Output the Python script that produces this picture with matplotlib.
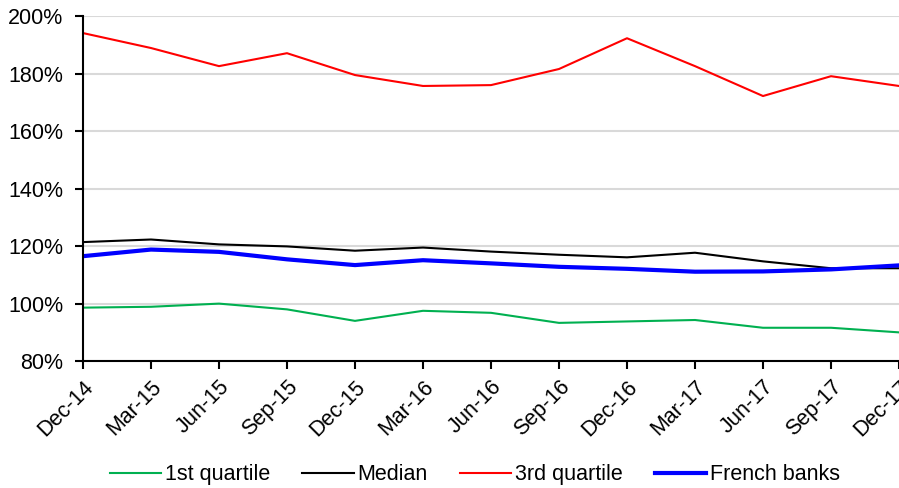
"""Liquidity ratio quartiles vs French banks."""

import matplotlib
matplotlib.use('Agg')
import matplotlib.pyplot as plt
from matplotlib.ticker import FuncFormatter

plt.rcParams['font.family'] = ['Liberation Sans', 'DejaVu Sans']

# data
dates = ['Dec-14', 'Mar-15', 'Jun-15', 'Sep-15', 'Dec-15', 'Mar-16', 'Jun-16',
         'Sep-16', 'Dec-16', 'Mar-17', 'Jun-17', 'Sep-17', 'Dec-17']
q1 = [98.6, 98.9, 100.0, 98.0, 94.0, 97.5, 96.8, 93.3, 93.8, 94.3, 91.6, 91.6, 90.0]
median = [121.4, 122.3, 120.6, 119.9, 118.4, 119.5, 118.1, 117.0, 116.1, 117.7, 114.7, 112.3, 112.3]
q3 = [194.1, 188.9, 182.6, 187.1, 179.5, 175.7, 176.0, 181.6, 192.3, 182.6, 172.2, 179.1, 175.7]
french = [116.5, 118.8, 118.0, 115.4, 113.4, 115.1, 114.0, 112.8, 112.1, 111.1, 111.2, 111.9, 113.3]

fig = plt.figure(figsize=(8.99, 4.88), dpi=100)
ax = fig.add_axes([0.0923, 0.260, 0.9077, 0.707])

x = range(len(dates))
ax.plot(x, q1, color='#00B050', lw=1.5, label='1st quartile')
ax.plot(x, median, color='black', lw=1.5, label='Median')
ax.plot(x, q3, color='#FF0000', lw=1.5, label='3rd quartile')
ax.plot(x, french, color='#0000FF', lw=3, label='French banks')

ax.set_xlim(0, len(dates) - 1)
ax.set_ylim(80, 200)
ax.set_yticks(range(80, 201, 20))
ax.yaxis.set_major_formatter(FuncFormatter(lambda v, p: '{:.0f}%'.format(v)))
ax.set_xticks(list(x))
ax.set_xticklabels(dates, rotation=45, ha='right', rotation_mode='anchor')

ax.grid(axis='y', color='#D9D9D9', lw=1.5)
ax.set_axisbelow(True)
for s in ['top', 'right']:
    ax.spines[s].set_visible(False)
for s in ['left', 'bottom']:
    ax.spines[s].set_linewidth(1.5)
ax.tick_params(axis='both', labelsize=15.5, width=1.5, length=6, direction='out')
ax.tick_params(axis='y', pad=8)
ax.tick_params(axis='x', pad=5)

fig.legend(loc='center', bbox_to_anchor=(0.528, 0.027), ncol=4, frameon=False,
           fontsize=15.5, handlelength=2.4, columnspacing=1.5, handletextpad=0.15,
           borderpad=0)

fig.savefig('out.png', dpi=100)
